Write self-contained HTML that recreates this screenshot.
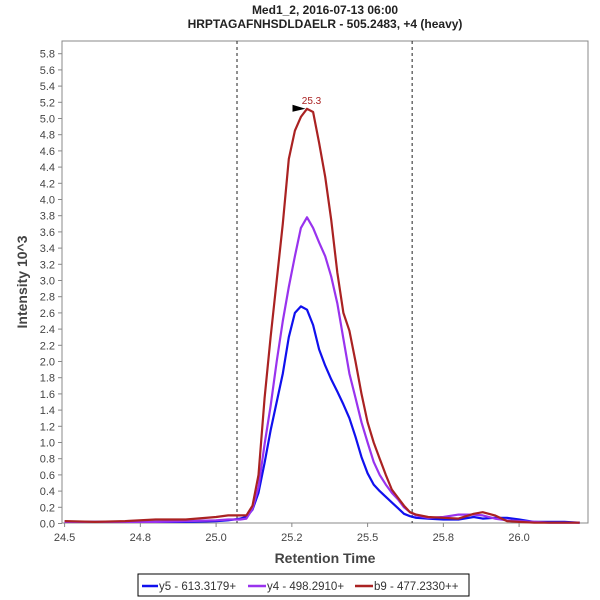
<!DOCTYPE html>
<html><head><meta charset="utf-8">
<style>
html,body{margin:0;padding:0;background:#fff;}
svg{display:block;font-family:"Liberation Sans",sans-serif;}
</style></head>
<body>
<svg id="chart" width="600" height="600" viewBox="0 0 600 600">
<text x="325" y="14" text-anchor="middle" font-size="12" font-weight="bold" fill="#222">Med1_2, 2016-07-13 06:00</text>
<text x="325" y="28" text-anchor="middle" font-size="12" font-weight="bold" fill="#222">HRPTAGAFNHSDLDAELR - 505.2483, +4 (heavy)</text>
<rect x="62" y="41" width="526" height="482" fill="#fff" stroke="#888" stroke-width="1"/>
<g id="yticks"></g>
<g id="xticks"></g>
<g id="series"></g>
<text transform="translate(27,282) rotate(-90)" text-anchor="middle" font-size="14" font-weight="bold" fill="#444">Intensity 10^3</text>
<text x="325" y="563" text-anchor="middle" font-size="14" font-weight="bold" fill="#444">Retention Time</text>
<g>
<rect x="138" y="574" width="331" height="22" fill="#fff" stroke="#000" stroke-width="1"/>
<g><line x1="142" y1="586" x2="158" y2="586" stroke="#1010ee" stroke-width="2.5"/><text x="159" y="590" font-size="11.5" fill="#333">y5 - 613.3179+</text></g>
<g><line x1="248" y1="586" x2="266" y2="586" stroke="#9933ee" stroke-width="2.5"/><text x="267" y="590" font-size="11.5" fill="#333">y4 - 498.2910+</text></g>
<g><line x1="355" y1="586" x2="373" y2="586" stroke="#aa2222" stroke-width="2.5"/><text x="374" y="590" font-size="11.5" fill="#333">b9 - 477.2330++</text></g>
</g>
</svg>
<script>
const times = [24.50,24.60,24.70,24.80,24.90,25.00,25.04,25.08,25.10,25.12,25.14,25.16,25.18,25.20,25.22,25.24,25.26,25.28,25.30,25.32,25.34,25.36,25.38,25.40,25.42,25.44,25.46,25.48,25.50,25.52,25.54,25.56,25.58,25.60,25.62,25.64,25.66,25.70,25.75,25.80,25.85,25.88,25.92,25.96,26.00,26.05,26.10,26.15,26.20];
const y5Values = [0.02,0.02,0.02,0.02,0.02,0.03,0.04,0.06,0.08,0.17,0.38,0.75,1.15,1.5,1.85,2.3,2.6,2.68,2.64,2.45,2.15,1.95,1.78,1.63,1.47,1.3,1.07,0.82,0.62,0.48,0.4,0.33,0.26,0.19,0.12,0.09,0.07,0.06,0.05,0.05,0.08,0.06,0.07,0.07,0.05,0.02,0.02,0.02,0.01];
const y4Values = [0.02,0.02,0.02,0.02,0.03,0.04,0.05,0.05,0.06,0.18,0.45,0.98,1.45,2.0,2.5,2.92,3.3,3.65,3.78,3.65,3.47,3.3,3.05,2.72,2.28,1.85,1.55,1.25,1.0,0.76,0.6,0.48,0.38,0.3,0.2,0.14,0.1,0.07,0.08,0.11,0.11,0.1,0.06,0.04,0.03,0.02,0.01,0.01,0.01];
const b9Values = [0.03,0.02,0.03,0.05,0.05,0.08,0.1,0.1,0.1,0.22,0.6,1.55,2.3,3.0,3.7,4.5,4.85,5.02,5.12,5.08,4.7,4.28,3.75,3.1,2.6,2.38,2.0,1.6,1.25,1.0,0.8,0.6,0.42,0.32,0.22,0.14,0.11,0.08,0.07,0.06,0.12,0.14,0.1,0.03,0.02,0.01,0.01,0.01,0.01];
const yTickValues = [0.0,0.2,0.4,0.6,0.8,1.0,1.2,1.4,1.6,1.8,2.0,2.2,2.4,2.6,2.8,3.0,3.2,3.4,3.6,3.8,4.0,4.2,4.4,4.6,4.8,5.0,5.2,5.4,5.6,5.8];
const xTickValues = [24.5,24.75,25.0,25.25,25.5,25.75,26.0];
const xTickLabels = ["24.5","24.8","25.0","25.2","25.5","25.8","26.0"];
const boundaryTimes = [25.069,25.647];
const peakTime = 25.305;
const peakValue = 5.12;
const peakLabel = "25.3";

const NS = "http://www.w3.org/2000/svg";
function xs(t){ return 64.6 + (t - 24.5) * 303; }
function ys(v){ return 523.5 - v * 81; }
function mk(tag, attrs, parent){ const e=document.createElementNS(NS,tag); for(const k in attrs) e.setAttribute(k,attrs[k]); parent.appendChild(e); return e; }

const yg = document.getElementById('yticks');
yTickValues.forEach(v=>{
  const y = ys(v);
  const t = mk('line',{x1:58,x2:62,y1:y,y2:y,stroke:'#888'},yg);
  
  
  const l = mk('text',{x:55,y:y+4,'text-anchor':'end','font-size':11,fill:'#444'},yg);
  l.textContent = v.toFixed(1);
  
  
});
const xg = document.getElementById('xticks');
xTickValues.forEach((v,i)=>{
  const x = xs(v);
  const t = mk('line',{x1:x,x2:x,y1:523,y2:527,stroke:'#888'},xg);
  
  
  const l = mk('text',{x:x,y:541,'text-anchor':'middle','font-size':11,fill:'#444'},xg);
  l.textContent = xTickLabels[i];
  
  
});
const sg = document.getElementById('series');
boundaryTimes.forEach(b=>{
  const d = mk('line',{x1:xs(b),x2:xs(b),y1:41,y2:523,stroke:'#222','stroke-dasharray':'3,3','stroke-width':1},sg);
  
  
});
function line(vals,color,name){
  const pts = times.map((t,i)=>xs(t).toFixed(1)+','+ys(vals[i]).toFixed(1)).join(' ');
  const p = mk('polyline',{points:pts,fill:'none',stroke:color,'stroke-width':2.2,'stroke-linejoin':'round'},sg);
  
  
}
line(y5Values,'#1010ee','y5-line');
line(y4Values,'#9933ee','y4-line');
line(b9Values,'#aa2222','b9-line');
const px = xs(peakTime), py = ys(peakValue);
const arrow = mk('polygon',{points:(px-16)+','+(py-4)+' '+(px-3)+','+(py)+' '+(px-16)+','+(py+3),fill:'#000'},sg);


const pl = mk('text',{x:px+3,y:py-5,'text-anchor':'middle','font-size':10,fill:'#aa2222'},sg);
pl.textContent = peakLabel;


</script>
</body></html>
